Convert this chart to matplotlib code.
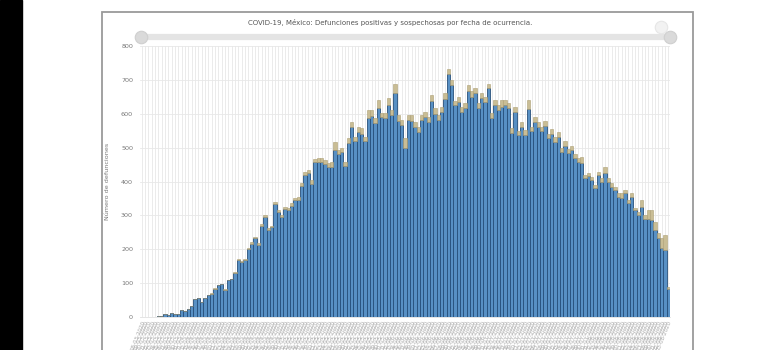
import numpy as np
import pandas as pd
import matplotlib
matplotlib.use("Agg")
import matplotlib.pyplot as plt
from matplotlib.patches import Rectangle
from matplotlib.lines import Line2D

titulo = "COVID-19, México: Defunciones positivas y sospechosas por fecha de ocurrencia."
ylabel = "Número de defunciones"

# defunciones positivas (azul)
positivas = [
    1, 0, 1, 1, 1, 2, 4, 8, 7, 12,
    9, 10, 20, 17, 25, 31, 53, 55, 44, 55,
    64, 69, 84, 94, 96, 81, 108, 111,
    131, 168, 162, 167, 202, 216, 232, 214, 270, 296, 257, 265,
    333, 310, 295, 318, 316, 329, 344, 346, 386, 419, 424,
    394, 457, 458, 457, 451, 442, 444, 493,
    481, 488, 445, 513, 560, 519, 546, 541, 519, 587,
    592, 573, 616, 590, 588, 625, 596, 660,
    580, 568, 500, 581, 580, 561, 545, 581, 590, 575,
    638, 600, 582, 605, 645, 718, 686, 626, 636, 606,
    618, 668, 650, 660, 617, 647, 635, 676, 588, 626,
    611, 620, 626, 617, 543, 606, 538, 561, 538,
    615, 548, 575, 560, 548, 565, 528, 540, 518, 530,
    488, 505, 483, 492, 468, 458,
    455, 410, 415, 403, 381, 418, 400, 425, 398, 385,
    374, 355, 352, 365, 338, 355, 315, 302, 325, 290,
    290, 286, 257, 233, 204, 198, 82,
]

# defunciones sospechosas (beige)
sospechosas = [
    0, 0, 0, 0, 0, 0, 0, 0, 0, 0,
    0, 0, 0, 0, 0, 0, 0, 0, 0, 0,
    1, 1, 1, 1, 1, 1, 1, 1,
    2, 3, 3, 3, 3, 4, 4, 4, 4, 5, 5, 5,
    6, 6, 6, 6, 6, 7, 7, 8, 9, 9, 10,
    10, 9, 11, 12, 12, 12, 13, 23,
    12, 10, 12, 15, 15, 12, 14, 16, 12, 23,
    18, 14, 24, 12, 14, 21, 14, 27,
    15, 13, 28, 15, 16, 14, 15, 15, 15, 15,
    17, 16, 14, 15, 16, 13, 13, 12, 13, 14,
    13, 16, 18, 15, 14, 14, 14, 11, 14, 14,
    14, 20, 14, 14, 16, 14, 12, 14, 14,
    25, 12, 15, 15, 12, 15, 12, 15, 12, 15,
    12, 15, 12, 13, 12, 12,
    17, 10, 10, 10, 8, 10, 10, 18, 12, 10,
    10, 11, 14, 10, 7, 11, 7, 8, 20, 11,
    26, 30, 23, 15, 29, 44, 6,
]

fechas = pd.date_range("2020-03-18", periods=len(positivas), freq="D")
etiquetas = [d.strftime("%d-%m-%Y") for d in fechas]

W, H = 765, 350
fig = plt.figure(figsize=(W / 100, H / 100), dpi=100)
fig.patch.set_facecolor("white")

# black strip on the left and panel border
fig.add_artist(Rectangle((0, 0), 22 / W, 1, transform=fig.transFigure, color="black", zorder=5))
fig.add_artist(Rectangle((102 / W, -0.1), (693 - 102) / W, 1 - 12 / H + 0.1,
                         transform=fig.transFigure, fill=False, edgecolor="#9a9a9a", lw=1.3))

fig.text(390 / W, 1 - 22 / H, titulo, ha="center", va="center", fontsize=5.0, color="#555555")

# range slider look
ys = 1 - 37 / H
fig.add_artist(Line2D([141 / W, 670 / W], [ys, ys], lw=4.5, color="#e4e4e4",
                      solid_capstyle="round", transform=fig.transFigure))
for xs in [141, 670]:
    fig.add_artist(Line2D([xs / W], [ys], marker="o", ms=9, mfc="#dadada", mec="#cfcfcf",
                          mew=0.8, transform=fig.transFigure))
fig.add_artist(Line2D([661 / W], [1 - 27 / H], marker="o", ms=9, mfc="#f2f2f2", mec="#e6e6e6",
                      mew=0.8, transform=fig.transFigure))

ax = fig.add_axes([140 / W, 1 - 317 / H, (670 - 140) / W, (317 - 46) / H])
x = np.arange(len(positivas))
ax.bar(x, positivas, width=1.0, color="#5890c4", edgecolor="#264f7a", linewidth=0.6, zorder=3)
ax.bar(x, sospechosas, bottom=positivas, width=1.0, color="#c9bd95", edgecolor="#ad9f74",
       linewidth=0.4, zorder=3)

ax.set_xlim(-0.5, len(positivas) - 0.5)
ax.set_ylim(0, 800)
ax.set_yticks(range(0, 801, 100))
ax.tick_params(axis="y", length=0, labelsize=4.6, labelcolor="#777777", pad=5)
ax.set_xticks(x)
ax.set_xticklabels(etiquetas, rotation=68, ha="right", rotation_mode="anchor",
                   fontsize=4.0, color="#a8a8a8")
ax.tick_params(axis="x", length=0, pad=2)
ax.grid(True, color="#e8e8e8", lw=0.6, zorder=0)
ax.set_axisbelow(True)
for s in ["top", "right", "left"]:
    ax.spines[s].set_visible(False)
ax.spines["bottom"].set_color("#e0e0e0")
ax.spines["bottom"].set_linewidth(0.6)
ax.set_ylabel(ylabel, fontsize=4.6, color="#777777", labelpad=8)

fig.savefig("out.png", dpi=100)
